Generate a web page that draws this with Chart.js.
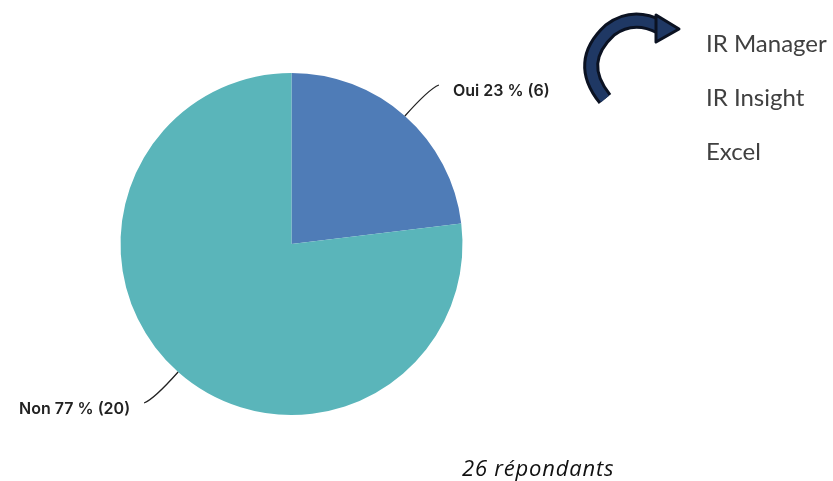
<!DOCTYPE html>
<html lang="fr">
<head>
<meta charset="utf-8">
<script src="https://cdn.jsdelivr.net/npm/chart.js@4/dist/chart.umd.min.js"></script>
<style>
  html, body { margin: 0; padding: 0; background: #fff; }
  #wrap { position: relative; width: 833px; height: 481px; overflow: hidden; }
  #pieChart { position: absolute; left: 0; top: 0; }
  .tools { position: absolute; left: 706px; font-family: Lato, sans-serif; font-size: 24px; color: #404040; line-height: 1; }
  .note { position: absolute; left: 462px; top: 452px; font-family: "Open Sans", sans-serif; font-style: italic; font-size: 22px; letter-spacing: 0.8px; color: #111; }
  #arrow { position: absolute; left: 0; top: 0; }
</style>
</head>
<body>
<div id="wrap">
  <canvas id="pieChart" width="833" height="481"></canvas>
  <svg id="arrow" width="833" height="481">
    <path d="M 605 99 Q 575 62 610 30 Q 633 13 660 27" fill="none" stroke="#0b1222" stroke-width="16" stroke-linecap="butt"/>
    <path d="M 605 99 Q 575 62 610 30 Q 633 13 660 27" fill="none" stroke="#1f3864" stroke-width="10" stroke-linecap="butt"/>
    <polygon points="656,15 679,29 656,42" fill="#1f3864" stroke="#0b1222" stroke-width="3" stroke-linejoin="round"/>
  </svg>
  <div class="tools" style="top:31px">IR Manager</div>
  <div class="tools" style="top:85px">IR Insight</div>
  <div class="tools" style="top:139px">Excel</div>
  <div class="note">26 répondants</div>
</div>
<script>
// Answers
const categories = ['Oui', 'Non'];
const counts = [6, 20];
const percents = [23, 77];
const sliceColors = ['#4f7cb7', '#5ab5ba'];

// Leader lines with labels outside the pie
const outsideLabels = {
    id: 'outsideLabels',
    afterDatasetsDraw(chart) {
        const ctx = chart.ctx;
        const meta = chart.getDatasetMeta(0);
        ctx.save();
        ctx.font = '600 16px Inter, sans-serif';
        ctx.fillStyle = '#222';
        ctx.strokeStyle = '#222';
        ctx.lineWidth = 1.3;
        ctx.textBaseline = 'middle';
        meta.data.forEach((arc, i) => {
            const mid = (arc.startAngle + arc.endAngle) / 2;
            const sx = arc.x + Math.cos(mid) * arc.outerRadius;
            const sy = arc.y + Math.sin(mid) * arc.outerRadius;
            const right = Math.cos(mid) >= 0;
            const dir = right ? 1 : -1;
            const vdir = Math.sin(mid) < 0 ? -1 : 1;
            const cx = sx + dir * 24;
            const cy = sy + vdir * 27;
            const ex = sx + dir * 34;
            const ey = sy + vdir * 31;
            ctx.beginPath();
            ctx.moveTo(sx, sy);
            ctx.quadraticCurveTo(cx, cy, ex, ey);
            ctx.stroke();
            const text = categories[i] + ' ' + percents[i] + ' % (' + counts[i] + ')';
            ctx.textAlign = right ? 'left' : 'right';
            ctx.fillText(text, ex + dir * 14, ey + 6);
        });
        ctx.restore();
    }
};

new Chart(document.getElementById('pieChart'), {
    type: 'pie',
    data: {
        labels: categories,
        datasets: [{
            data: counts,
            backgroundColor: sliceColors,
            borderWidth: 0
        }]
    },
    options: {
        responsive: false,
        animation: false,
        layout: {
            padding: { left: 120.5, right: 370.5, top: 73, bottom: 66 }
        },
        plugins: {
            legend: { display: false },
            tooltip: { enabled: false }
        }
    },
    plugins: [outsideLabels]
});
</script>
</body>
</html>
